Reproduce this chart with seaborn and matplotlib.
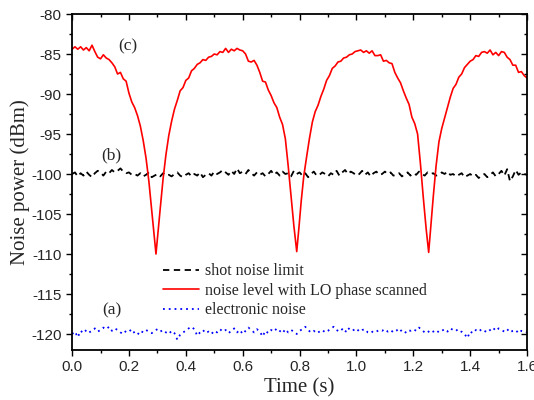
import numpy as np
import pandas as pd
import seaborn as sns
import matplotlib.pyplot as plt
from matplotlib.ticker import MultipleLocator

# (c) red curve: noise with LO phase scanned
red_t = [0.000, 0.010, 0.020, 0.030, 0.040, 0.050, 0.060, 0.070, 0.080, 0.090,
         0.100, 0.110, 0.120, 0.130, 0.140, 0.150, 0.160, 0.170, 0.180, 0.190,
         0.200, 0.210, 0.220, 0.230, 0.240, 0.250, 0.260, 0.270, 0.280, 0.288,
         0.295, 0.302, 0.310, 0.320, 0.330, 0.340, 0.350, 0.360, 0.370, 0.380,
         0.390, 0.400, 0.410, 0.420, 0.430, 0.440, 0.450, 0.460, 0.470, 0.480,
         0.490, 0.500, 0.510, 0.520, 0.530, 0.540, 0.550, 0.560, 0.570, 0.580,
         0.590, 0.600, 0.610, 0.620, 0.630, 0.640, 0.650, 0.660, 0.670, 0.680,
         0.690, 0.700, 0.710, 0.720, 0.730, 0.740, 0.750, 0.760, 0.770, 0.780,
         0.790, 0.798, 0.806, 0.815, 0.825, 0.835, 0.845, 0.855, 0.865, 0.875,
         0.885, 0.895, 0.905, 0.915, 0.925, 0.935, 0.945, 0.955, 0.965, 0.975,
         0.985, 0.995, 1.005, 1.015, 1.025, 1.035, 1.045, 1.055, 1.065, 1.075,
         1.085, 1.095, 1.105, 1.115, 1.125, 1.135, 1.145, 1.155, 1.165, 1.175,
         1.185, 1.195, 1.205, 1.215, 1.225, 1.235, 1.245, 1.254, 1.262, 1.270,
         1.280, 1.290, 1.300, 1.310, 1.320, 1.330, 1.340, 1.350, 1.360, 1.370,
         1.380, 1.390, 1.400, 1.410, 1.420, 1.430, 1.440, 1.450, 1.460, 1.470,
         1.480, 1.490, 1.500, 1.510, 1.520, 1.530, 1.540, 1.550, 1.560, 1.570,
         1.580, 1.590, 1.600]
red_v = [-84.4, -84.1, -84.4, -84.1, -84.5, -84.2, -84.6, -83.9, -84.7, -85.4,
         -85.6, -85.1, -85.5, -85.7, -86.1, -86.6, -87.5, -87.3, -88.1, -88.4,
         -89.9, -91.0, -91.7, -92.7, -94.0, -95.8, -98.0, -100.9, -104.5, -107.5,
         -110.0, -107.3, -104.3, -100.6, -97.6, -95.2, -93.4, -91.9, -90.8, -89.6,
         -89.2, -88.3, -88.0, -87.1, -86.8, -86.3, -86.1, -85.7, -85.8, -85.4,
         -85.3, -85.0, -85.1, -84.7, -84.8, -84.3, -84.8, -84.4, -84.6, -84.3,
         -84.5, -84.6, -85.0, -85.9, -86.0, -85.8, -86.4, -87.3, -88.4, -88.5,
         -89.5, -90.2, -91.1, -91.7, -92.9, -93.8, -95.6, -99.0, -102.8, -106.5,
         -109.7, -106.6, -103.3, -100.2, -97.8, -95.5, -93.5, -92.2, -91.4, -90.3,
         -89.4, -88.3, -87.7, -86.8, -86.5, -86.0, -85.9, -85.5, -85.4, -85.1,
         -85.0, -84.7, -84.6, -84.5, -84.8, -84.6, -84.9, -84.6, -85.2, -85.2,
         -85.1, -85.9, -85.8, -86.1, -86.2, -87.3, -88.0, -88.6, -89.6, -90.5,
         -91.3, -92.9, -93.7, -95.0, -98.7, -102.9, -106.8, -109.8, -106.4, -102.9,
         -99.0, -96.0, -94.3, -93.0, -91.7, -90.4, -89.3, -88.8, -87.9, -87.5,
         -86.7, -86.3, -85.9, -85.7, -85.2, -85.3, -84.8, -84.7, -84.9, -84.5,
         -85.1, -84.8, -85.2, -84.7, -84.8, -85.4, -85.7, -86.4, -86.4, -87.3,
         -87.2, -87.7, -88.0]

# (b) shot noise limit, sampled every 0.01 s
shot_v = [-100.0, -99.8, -100.3, -99.9, -100.2, -99.7, -100.1, -100.4, -99.9, -99.6,
          -99.8, -100.2, -99.7, -99.9, -99.5, -99.8, -99.6, -99.3, -99.7, -99.9,
          -99.8, -100.1, -100.0, -100.2, -99.9, -100.3, -100.1, -99.8, -100.4, -100.2,
          -100.0, -100.3, -99.9, -100.2, -100.1, -100.3, -100.0, -99.8, -100.2, -100.4,
          -100.1, -99.9, -100.3, -100.0, -100.2, -99.8, -100.4, -100.1, -99.9, -100.2,
          -99.7, -100.0, -99.8, -99.5, -99.8, -100.1, -99.6, -100.0, -99.3, -99.9,
          -99.7, -100.0, -99.5, -99.9, -100.2, -99.8, -100.1, -99.9, -100.3, -100.0,
          -99.6, -100.1, -99.8, -100.2, -99.7, -100.0, -99.9, -100.3, -99.6, -100.0,
          -99.8, -100.2, -99.9, -100.4, -100.0, -99.7, -100.2, -100.1, -99.8, -100.0,
          -100.3, -99.9, -100.1, -99.6, -100.2, -99.8, -99.5, -100.0, -99.7, -99.9,
          -100.2, -100.0, -99.6, -100.1, -99.8, -100.3, -99.9, -99.7, -100.1, -100.0,
          -99.7, -100.0, -99.8, -100.2, -100.1, -99.9, -100.3, -100.0, -99.8, -100.2,
          -99.9, -100.1, -99.7, -100.0, -100.2, -99.8, -100.0, -99.9, -100.2, -100.1,
          -99.8, -100.0, -99.7, -100.1, -100.0, -100.3, -100.1, -99.9, -100.4, -100.2,
          -100.0, -100.3, -100.1, -100.5, -100.2, -100.0, -100.4, -100.1, -99.8, -100.3,
          -100.0, -99.6, -100.2, -99.4, -100.9, -100.3, -99.5, -100.1, -99.8, -100.0,
          -100.1]

# (a) electronic noise, sampled every 0.01 s
elec_v = [-120.0, -119.7, -120.4, -119.6, -119.9, -119.5, -119.8, -119.6, -119.3, -119.7,
          -119.5, -119.2, -119.4, -119.1, -119.6, -119.3, -119.5, -119.8, -120.0, -119.6,
          -119.7, -119.4, -119.9, -120.1, -119.6, -119.8, -119.5, -119.7, -119.9, -119.6,
          -119.4, -119.7, -119.5, -119.8, -120.0, -119.6, -119.9, -120.7, -120.1, -119.8,
          -119.6, -119.3, -119.1, -119.4, -120.2, -119.8, -119.5, -119.9, -119.7, -120.0,
          -119.6, -119.8, -119.4, -119.7, -119.5, -119.9, -119.6, -119.3, -119.8, -119.5,
          -120.0, -119.6, -119.2, -119.5, -119.8, -119.4, -119.7, -120.3, -119.6, -119.9,
          -119.5, -119.7, -119.3, -119.6, -119.9, -119.4, -119.8, -119.5, -119.7, -120.0,
          -119.6, -119.4, -119.1, -119.5, -119.8, -119.6, -119.9, -119.7, -119.5, -119.8,
          -119.6, -119.3, -119.1, -119.5, -119.7, -119.4, -119.8, -119.2, -119.6, -119.5,
          -119.3, -119.7, -119.5, -119.4, -119.8, -119.9, -119.6, -119.7, -119.5, -119.6,
          -119.4, -119.7, -119.5, -119.8, -119.6, -119.3, -119.7, -119.9, -119.5, -119.6,
          -119.4, -119.6, -119.2, -119.5, -119.8, -119.6, -119.9, -119.7, -119.5, -119.8,
          -119.6, -119.4, -119.7, -119.3, -119.5, -119.4, -119.8, -119.7, -120.0, -120.5,
          -119.7, -119.9, -119.5, -119.7, -119.4, -119.6, -119.8, -119.5, -119.2, -119.6,
          -119.3, -119.5, -119.7, -119.4, -119.8, -119.6, -119.5, -119.9, -119.6, -119.7,
          -119.8]

noise_t = np.linspace(0, 1.6, len(shot_v))

sns.set_theme(style="ticks")
plt.rcParams["font.family"] = ["Liberation Sans", "DejaVu Sans"]
plt.rcParams["axes.unicode_minus"] = False
serif = ["Liberation Serif", "DejaVu Serif"]

fig = plt.figure(figsize=(5.34, 4.0), dpi=100)
ax = fig.add_axes([0.135, 0.125, 0.852, 0.84])

sns.lineplot(x=noise_t, y=shot_v, ax=ax, color="black", lw=1.3,
             linestyle=(0, (3.5, 2.5)), label="shot noise limit")
sns.lineplot(x=red_t, y=red_v, ax=ax, color="#ff0000", lw=1.2, sort=False,
             label="noise level with LO phase scanned")
sns.lineplot(x=noise_t, y=elec_v, ax=ax, color="#0000ff", lw=1.3,
             linestyle=(0, (1, 2.2)), label="electronic noise")

ax.set_xlim(0, 1.6)
ax.set_ylim(-122, -80)
ax.xaxis.set_major_locator(MultipleLocator(0.2))
ax.xaxis.set_minor_locator(MultipleLocator(0.1))
ax.yaxis.set_major_locator(MultipleLocator(5))
ax.yaxis.set_minor_locator(MultipleLocator(2.5))
ax.set_xticks(np.arange(0, 1.61, 0.2))
ax.set_xticklabels([f"{v:.1f}" for v in np.arange(0, 1.61, 0.2)])

for s in ax.spines.values():
    s.set_visible(True)
    s.set_linewidth(1.3)
    s.set_color("black")
ax.tick_params(which="both", direction="out", top=True, right=True,
               labelsize=11, color="black", width=1.0)
ax.tick_params(which="major", length=4)
ax.tick_params(which="minor", length=2.5)
# mirrored ticks point inwards on top and right
for t in ax.xaxis.get_ticklines(minor=False)[1::2] + ax.xaxis.get_ticklines(minor=True)[1::2]:
    t.set_marker(3)
for t in ax.yaxis.get_ticklines(minor=False)[1::2] + ax.yaxis.get_ticklines(minor=True)[1::2]:
    t.set_marker(0)

ax.set_xlabel("Time (s)", family=serif, fontsize=15, labelpad=3)
ax.set_ylabel("Noise power (dBm)", family=serif, fontsize=15, labelpad=1)

ax.text(0.197, -84.1, "(c)", family=serif, fontsize=12.5, ha="center", va="center")
ax.text(0.137, -97.7, "(b)", family=serif, fontsize=12.5, ha="center", va="center")
ax.text(0.141, -117.1, "(a)", family=serif, fontsize=12.5, ha="center", va="center")

leg = ax.legend(loc="upper left", bbox_to_anchor=(0.185, 0.277), frameon=False,
                prop={"family": serif, "size": 11.5}, handlelength=2.3,
                handletextpad=0.35, labelspacing=0.22, borderaxespad=0)

fig.savefig("out.png", dpi=100)
